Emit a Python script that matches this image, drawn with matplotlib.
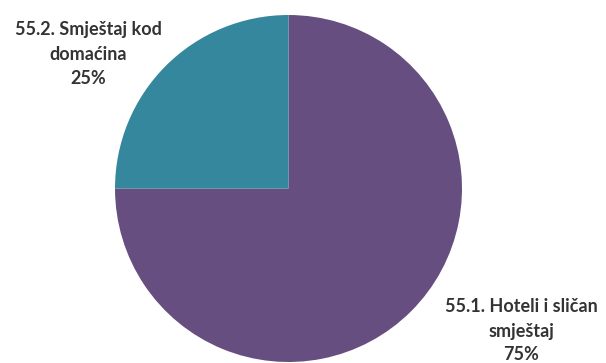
import matplotlib.pyplot as plt

# udio smještaja po vrsti
categories = ['55.1. Hoteli i sličan\nsmještaj', '55.2. Smještaj kod\ndomaćina']
shares = [75, 25]
colors = ['#664F80', '#35879D']

fig = plt.figure(figsize=(6.06, 3.63), dpi=100)
ax = fig.add_axes([115 / 606, 1 / 363, 347 / 606, 347 / 363])

wedges, _ = ax.pie(shares, colors=colors, startangle=90, counterclock=False,
                   radius=1.0)
ax.set_xlim(-1, 1)
ax.set_ylim(-1, 1)
ax.set_aspect('equal')

# oznake izvan kruga
label_pos = [(521, 331), (88, 54)]
for name, val, (px, py) in zip(categories, shares, label_pos):
    fig.text(px / 606, 1 - py / 363, f'{name}\n{val}%', ha='center', va='center',
             family='Lato', fontweight='bold', fontsize=13, color='#333333',
             linespacing=1.5)

fig.savefig('out.png', dpi=100)
